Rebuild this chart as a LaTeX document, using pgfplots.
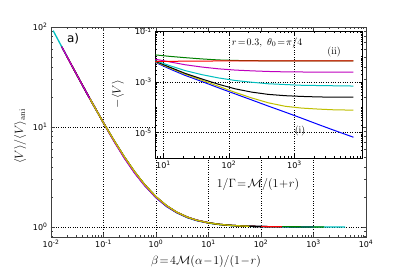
\documentclass[border=0pt]{standalone}
\usepackage[no-math]{fontspec}
\setmainfont{DejaVu Sans}
\usepackage{pgfplots}
\pgfplotsset{compat=1.18}

\definecolor{mpb}{rgb}{0,0,1}
\definecolor{mpg}{rgb}{0,0.5,0}
\definecolor{mpr}{rgb}{1,0,0}
\definecolor{mpc}{rgb}{0,0.75,0.75}
\definecolor{mpm}{rgb}{0.75,0,0.75}
\definecolor{mpy}{rgb}{0.75,0.75,0}

\pgfplotsset{
  log number format basis/.code 2 args={#1\textsuperscript{\pgfmathprintnumber[assume math mode=true]{#2}}},
  every tick label/.append style={font=\fontsize{8}{9}\selectfont},
  major tick length=4pt, minor tick length=2pt,
}

\begin{document}
\begin{tikzpicture}
\path[use as bounding box] (-51pt,-34pt) rectangle (356pt,237pt);

% ---------------- main axis ----------------
\begin{axis}[
  at={(0pt,0pt)}, anchor=south west,
  scale only axis, width=315pt, height=210pt,
  xmode=log, ymode=log, log basis x=10, log basis y=10,
  xmin=1e-2, xmax=1e4, ymin=0.794, ymax=100,
  grid=major, major grid style={dotted, black, line width=0.5pt},
  axis line style={black!75, line width=0.9pt},
  tick style={black!75, line width=0.5pt},
  xlabel={$\beta\!=\!4\mathcal{M}(\alpha\!-\!1)/(1\!-\!r)$},
  ylabel={$\langle V\rangle/\langle V\rangle_{\mathrm{ani}}$},
  label style={font=\fontsize{12}{14}\selectfont},
  xlabel style={at={(rel axis cs:0.492,-0.119)}, anchor=center},
  ylabel style={at={(rel axis cs:-0.098,0.48)}, anchor=center},
  every axis plot/.append style={line width=1.3pt},
]
\addplot[mpc] coordinates {(0.011,91.9)(0.016,63.5)(0.025,41)(0.04,26)(0.055,19.2)(0.1,11)(0.16,7.25)(0.25,5)(0.4,3.5)(0.6,2.667)(1,2)(1.6,1.61)(2.5,1.385)(4,1.235)(6,1.155)(10,1.092)(16,1.056)(25,1.035)(40,1.022)(60,1.015)(100,1.009)(160,1.0055)(250,1.0035)(400,1.002)(600,1.0015)(1000,1.0008)(1600,1.0005)(2500,1.0003)(4000,1.0002)};
\addplot[mpb] coordinates {(0.04,26)(0.055,19.2)(0.1,11)(0.16,7.2)(0.25,4.9)(0.4,3.42)(0.6,2.62)(1,1.96)(1.6,1.6)(2.5,1.39)(4,1.245)(6,1.163)(10,1.1)(16,1.062)(25,1.04)(40,1.025)(60,1.017)(100,1.01)(160,1.006)(250,1.004)(400,1.0025)(600,1.0017)(1000,1.001)};
\addplot[mpg] coordinates {(0.025,41)(0.04,26)(0.055,19.2)(0.1,11)(0.16,7.25)(0.25,5)(0.4,3.5)(0.6,2.667)(1,2)(1.6,1.63)(2.5,1.405)(4,1.255)(6,1.17)(10,1.102)(16,1.063)(25,1.04)(40,1.025)(60,1.017)(100,1.01)(160,1.006)(250,1.004)(400,1.0025)(600,1.0017)(1000,1.001)(1600,1.0006)};
\addplot[mpr] coordinates {(0.02,51)(0.025,41)(0.04,26)(0.055,19.2)(0.1,11)(0.16,7.25)(0.25,5)(0.4,3.5)(0.6,2.667)(1,2)(1.6,1.625)(2.5,1.4)(4,1.25)(6,1.167)(10,1.1)(16,1.0625)(25,1.04)(40,1.025)(60,1.017)(100,1.01)(160,1.006)(250,1.004)};
\addplot[black] coordinates {(0.016,63.5)(0.025,41)(0.04,26)(0.055,19.2)(0.1,11)(0.16,7.25)(0.25,5)(0.4,3.5)(0.6,2.667)(1,2)(1.6,1.625)(2.5,1.4)(4,1.25)(6,1.167)(10,1.1)(16,1.0625)(25,1.04)(40,1.025)(60,1.017)(100,1.01)};
\addplot[mpm] coordinates {(0.016,63.5)(0.025,41)(0.04,26)(0.055,19.2)(0.1,11)(0.16,7.15)(0.25,4.88)(0.4,3.42)(0.6,2.62)(1,1.98)(1.6,1.62)(2.5,1.4)(4,1.25)(6,1.167)(10,1.1)};
\addplot[mpy] coordinates {(0.055,19.2)(0.1,11)(0.16,7.3)(0.25,5.03)(0.4,3.52)(0.6,2.68)(1,2.01)(1.6,1.63)(2.5,1.405)(4,1.252)(6,1.168)(10,1.1)(16,1.0625)(25,1.04)(40,1.025)(60,1.017)};
\node[font=\fontsize{12}{14}\selectfont] at (rel axis cs:0.07,0.943) {a)};
\end{axis}

% ---------------- inset ----------------
\begin{axis}[
  at={(104.3pt,79pt)}, anchor=south west,
  scale only axis, width=207.4pt, height=126.7pt,
  xmode=log, ymode=log, log basis x=10, log basis y=10,
  xmin=7.5, xmax=1.1e4, ymin=1e-6, ymax=1e-1,
  xtick={10,100,1000}, ytick={1e-5,1e-3,1e-1},
  minor xtick={8,9,20,30,40,50,60,70,80,90,200,300,400,500,600,700,800,900,2000,3000,4000,5000,6000,7000,8000,9000,10000},
  minor ytick={2e-6,3e-6,4e-6,5e-6,6e-6,7e-6,8e-6,9e-6,2e-5,3e-5,4e-5,5e-5,6e-5,7e-5,8e-5,9e-5,1e-4,2e-4,3e-4,4e-4,5e-4,6e-4,7e-4,8e-4,9e-4,2e-3,3e-3,4e-3,5e-3,6e-3,7e-3,8e-3,9e-3,1e-2,2e-2,3e-2,4e-2,5e-2,6e-2,7e-2,8e-2,9e-2},
  axis background/.style={fill=white},
  grid=major, major grid style={dotted, black, line width=0.5pt},
  axis line style={black, line width=1pt},
  tick style={black, line width=0.5pt},
  xlabel={$1/\Gamma\!=\!\mathcal{M}/(1\!+\!r)$},
  ylabel={$-\langle V\rangle$},
  label style={font=\fontsize{12}{14}\selectfont},
  xlabel style={at={(rel axis cs:0.495,-0.213)}, anchor=center},
  ylabel style={at={(rel axis cs:-0.18,0.505)}, anchor=center},
  every axis plot/.append style={line width=1pt},
]
\addplot[mpb] coordinates {(7.46,6.03e-3)(12.6,3.24e-3)(21.4,1.82e-3)(38.5,1.047e-3)(69.2,5.89e-4)(124,3.39e-4)(223,1.95e-4)(398,1.12e-4)(721,6.46e-5)(1288,3.72e-5)(2323,2.09e-5)(4169,1.20e-5)(7943,6.61e-6)};
\addplot[mpy] coordinates {(7.46,6.31e-3)(12.6,3.55e-3)(21.4,2.04e-3)(38.5,1.175e-3)(69.2,6.76e-4)(124,3.89e-4)(223,2.34e-4)(398,1.51e-4)(721,1.10e-4)(1288,9.33e-5)(2323,8.51e-5)(4169,7.94e-5)(7943,7.76e-5)};
\addplot[black] coordinates {(7.46,6.61e-3)(12.6,3.80e-3)(21.4,2.19e-3)(38.5,1.318e-3)(69.2,8.13e-4)(124,5.37e-4)(223,3.98e-4)(398,3.24e-4)(721,2.88e-4)(1288,2.69e-4)(2323,2.57e-4)(4169,2.51e-4)(7943,2.51e-4)};
\addplot[mpc] coordinates {(7.46,7.00e-3)(12.6,4.37e-3)(21.4,2.82e-3)(38.5,1.95e-3)(69.2,1.445e-3)(124,1.148e-3)(223,9.77e-4)(398,8.51e-4)(721,7.94e-4)(1288,7.41e-4)(2323,7.24e-4)(4169,7.08e-4)(7943,6.92e-4)};
\addplot[mpm] coordinates {(7.46,7.94e-3)(12.6,6.17e-3)(21.4,4.79e-3)(38.5,3.89e-3)(69.2,3.31e-3)(124,2.95e-3)(223,2.75e-3)(398,2.60e-3)(721,2.51e-3)(1288,2.48e-3)(2323,2.45e-3)(4169,2.45e-3)(7943,2.45e-3)};
\addplot[mpg] coordinates {(7.46,1.175e-2)(12.6,1.023e-2)(21.4,9.12e-3)(38.5,8.13e-3)(69.2,7.41e-3)(124,7.08e-3)(223,6.92e-3)(398,6.84e-3)(721,6.80e-3)(1288,6.78e-3)(2323,6.76e-3)(4169,6.76e-3)(7943,6.76e-3)};
\addplot[mpr] coordinates {(7.46,6.46e-3)(12.6,6.55e-3)(21.4,6.61e-3)(38.5,6.68e-3)(69.2,6.76e-3)(124,6.76e-3)(223,6.76e-3)(398,6.76e-3)(721,6.76e-3)(1288,6.76e-3)(2323,6.76e-3)(4169,6.76e-3)(7943,6.76e-3)};
\node[font=\fontsize{10}{12}\selectfont] at (rel axis cs:0.539,0.908) {$r\!=\!0.3,\ \theta_0\!=\!\pi/4$};
\node[font=\fontsize{10}{12}\selectfont] at (rel axis cs:0.862,0.837) {$\mathrm{(ii)}$};
\node[font=\fontsize{10}{12}\selectfont] at (rel axis cs:0.698,0.213) {$\mathrm{(i)}$};
\end{axis}
\end{tikzpicture}
\end{document}
